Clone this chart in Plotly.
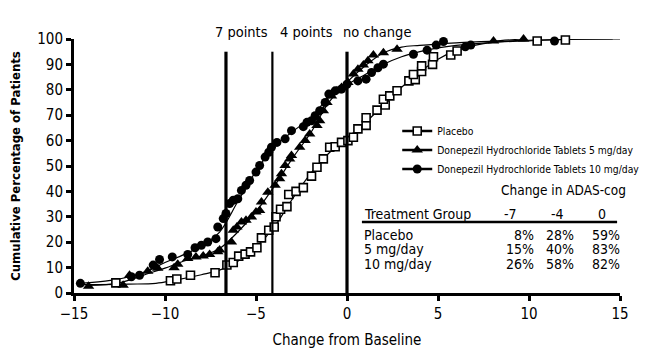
import plotly.graph_objects as go

# ---- data ----
placebo_x = [-12.7, -9.7, -9.35, -8.6, -7.25, -6.6, -6.25, -5.95, -5.6, -5.3, -4.95, -4.7, -4.3, -4.0, -3.9,
             -3.65, -3.3, -3.2, -2.8, -2.4, -1.95, -1.65, -1.3, -0.95, -0.65, -0.3, 0.05, 0.35, 0.6, 1.05, 1.05,
             1.65, 2.1, 2.0, 2.35, 2.75, 3.4, 3.75, 3.65, 4.1, 4.1, 4.7, 4.75, 5.7, 6.05, 10.45, 12.0]
placebo_y = [4, 4.8, 5.5, 7, 8, 11, 12, 14.5, 15.3, 16.2, 17.8, 21.7, 24.7, 26, 30,
             33, 34, 38.8, 40, 41.5, 46, 49.5, 52.8, 57.4, 57.6, 59.3, 60, 61.3, 64.6, 66, 69,
             72, 74, 76.3, 77.6, 79.6, 83.5, 84, 86, 87.2, 89.4, 90, 93, 93.7, 95.3, 99.2, 99.6]

mg5_x = [-14.2, -12.3, -11.95, -10.95, -10.4, -9.5, -9.3, -8.75, -8.3, -7.9, -7.55, -7.1, -7.0, -6.35, -6.25,
         -6.05, -5.8, -5.55, -5.25, -5.0, -4.8, -4.7, -4.35, -3.95, -3.7, -3.6, -3.4, -3.15, -3.05, -2.6,
         -2.3, -2.05, -1.65, -1.5, -1.3, -1.1, -0.85, -0.55, -0.3, 0.05, 0.35, 0.6, 0.9, 1.15, 1.45, 2.0,
         2.75, 8.05, 9.7]
mg5_y = [2.7, 3.1, 7, 8.6, 9.7, 9.9, 11.3, 13.6, 14.2, 14.6, 15.2, 16.2, 16.9, 20.1, 24.7,
         26, 28, 28.6, 29.9, 31.9, 32.5, 35.8, 39.7, 42.4, 45, 46.9, 50.2, 52.8, 54.1, 57.4,
         60, 62.6, 65.9, 67.8, 71.8, 75, 77.6, 79.6, 80.9, 82.9, 86.2, 88.1, 89.8, 91.4, 93.7, 94.6,
         96, 99.2, 100]

mg10_x = [-14.65, -11.85, -11.4, -10.65, -10.3, -9.6, -8.75, -8.35, -8.0, -7.65, -7.2, -7.1, -6.8, -6.65,
          -6.45, -6.25, -6.0, -5.8, -5.55, -5.35, -5.0, -4.8, -4.5, -4.3, -4.15, -3.85, -3.4, -3.05, -2.4,
          -2.2, -1.95, -1.75, -1.5, -1.2, -1.0, -0.65, -0.3, 0.0, 0.6, 1.05, 1.35, 1.7, 2.0, 3.65, 4.4,
          4.9, 5.3, 6.5, 6.8, 11.4, 12.7]
mg10_y = [3.8, 6.4, 7, 11, 13.2, 14.2, 15.2, 17.8, 18.8, 20.1, 21.4, 26, 29.3, 31.3,
          35.2, 36.5, 37.1, 40.4, 42.4, 44.3, 47.6, 50.2, 53.5, 55.4, 57.4, 59.3, 60.7, 63.9, 65.5,
          67.2, 67.8, 69.8, 71.8, 75, 78.3, 79.6, 80.3, 82.2, 83.5, 84.2, 86.8, 88.7, 90.1, 94, 95.6,
          97.6, 99, 96.9, 97.6, 99.2, 100.3]

# fitted curves
fit_p_x = [-14.5, -12, -10.5, -9.5, -8, -7, -6, -5, -4, -3, -2, -1, 0, 1, 2, 3, 4, 5, 6, 7, 8, 10, 12, 14.6]
fit_p_y = [3.3, 3.5, 3.8, 5, 7.2, 9, 12.5, 18, 26, 37, 47, 55, 61, 67, 74, 81, 87, 92, 95.5, 97.5, 98.7, 99.5, 99.8, 100]
fit_5_x = [-14.3, -12.5, -11, -10, -9, -8, -7, -6, -5, -4, -3, -2, -1, 0, 1, 2, 3, 4, 6, 8, 9.7]
fit_5_y = [3, 4, 7.5, 9.8, 12.5, 14.5, 17.5, 24, 32, 42, 53, 63, 75, 83, 89.5, 94.5, 96.8, 97.5, 98.5, 99.2, 100]
fit_10_x = [-14.7, -13, -12, -11, -10, -9, -8, -7, -6, -5, -4, -3, -2, -1, 0, 1, 2, 3, 4, 5, 6, 8, 10, 12.7, 15]
fit_10_y = [3.8, 5, 6.3, 8.5, 12, 15, 18.5, 24, 36, 48, 57.5, 63.5, 69, 77, 82, 86, 90, 93, 95, 96.5, 97.5, 98.7, 99.3, 100, 100]

series_names = ["Placebo", "Donepezil Hydrochloride Tablets 5 mg/day", "Donepezil Hydrochloride Tablets 10 mg/day"]

cut_x = [-6.65, -4.1, 0]
cut_labels = ["7 points", "4 points", "no change"]
cut_label_x = [-5.82, -2.2, 1.65]

table_cols = ["-7", "-4", "0"]
table_rows = ["Placebo", "5 mg/day", "10 mg/day"]
table_vals = [["8%", "28%", "59%"], ["15%", "40%", "83%"], ["26%", "58%", "82%"]]

FONT = "Liberation Sans Narrow, DejaVu Sans Condensed, Arial Narrow, sans-serif"

# page has an 8px body margin: figure is drawn at (8, 8)
OFF = 8
W, H = 655 - OFF, 357 - OFF
L, R, T, B = 74 - OFF, 35, 39 - OFF, 64
PW = W - L - R


def px_to_paper_x(px):
    return (px - OFF - L) / PW


fig = go.Figure()

for fx, fy in [(fit_p_x, fit_p_y), (fit_5_x, fit_5_y), (fit_10_x, fit_10_y)]:
    fig.add_trace(go.Scatter(x=fx, y=fy, mode="lines", line=dict(color="black", width=1.2, shape="spline"),
                             showlegend=False, hoverinfo="skip", cliponaxis=False))

marker_styles = [
    dict(symbol="square", size=8, color="white", line=dict(color="black", width=1.6)),
    dict(symbol="triangle-up", size=10, color="black", line=dict(color="black", width=0)),
    dict(symbol="circle", size=9, color="black", line=dict(color="black", width=0)),
]
for (xs, ys), ms in zip([(placebo_x, placebo_y), (mg5_x, mg5_y), (mg10_x, mg10_y)], marker_styles):
    fig.add_trace(go.Scatter(x=xs, y=ys, mode="markers", marker=ms, showlegend=False, cliponaxis=False))

for name, ms in zip(series_names, marker_styles):
    fig.add_trace(go.Scatter(x=[None], y=[None], mode="lines+markers", name=name,
                             marker=ms, line=dict(color="black", width=2.5)))

shapes = []
for cx, w in zip(cut_x, [3.2, 2.2, 3.2]):
    shapes.append(dict(type="line", xref="x", yref="y", x0=cx, x1=cx, y0=0, y1=95,
                       line=dict(color="black", width=w)))
shapes.append(dict(type="line", xref="x", yref="y", x0=0.82, x1=14.84, y0=28.0, y1=28.0,
                   line=dict(color="black", width=2.5)))

ann = []
for lx, lt in zip(cut_label_x, cut_labels):
    ann.append(dict(x=lx, y=1.067, xref="x", yref="paper", text=lt, showarrow=False,
                    font=dict(size=14.5, family=FONT, color="black")))
ann.append(dict(x=11.87, y=40.5, xref="x", yref="y", text="Change in ADAS-cog", showarrow=False,
                font=dict(size=13.5, family=FONT, color="black")))
ann.append(dict(x=0.82, y=31, xref="x", yref="y", text="Treatment Group", showarrow=False, xanchor="left",
                font=dict(size=14, family=FONT, color="black")))
col_cx = [9.0, 11.54, 14.0]
for cx, ct in zip(col_cx, table_cols):
    ann.append(dict(x=cx, y=31, xref="x", yref="y", text=ct, showarrow=False,
                    font=dict(size=14, family=FONT, color="black")))
row_y = [22.8, 17.3, 11.4]
val_rpx = [536, 576, 622]
for ry, rn, rv in zip(row_y, table_rows, table_vals):
    ann.append(dict(x=0.82, y=ry, xref="x", yref="y", text=rn, showarrow=False, xanchor="left",
                    font=dict(size=14, family=FONT, color="black")))
    for vpx, v in zip(val_rpx, rv):
        ann.append(dict(x=px_to_paper_x(vpx), y=ry, xref="paper", yref="y", text=v, showarrow=False,
                        xanchor="right", font=dict(size=14, family=FONT, color="black")))

fig.update_layout(
    width=W, height=H,
    margin=dict(l=L, r=R, t=T, b=B, autoexpand=False),
    paper_bgcolor="white", plot_bgcolor="white",
    font=dict(family=FONT, color="black", size=14),
    shapes=shapes, annotations=ann,
    legend=dict(x=0.592, y=0.695, xanchor="left", yanchor="top", bgcolor="rgba(0,0,0,0)",
                font=dict(size=10.3, family=FONT), tracegroupgap=0),
    xaxis=dict(range=[-15, 15], tickvals=[-15, -10, -5, 0, 5, 10, 15], showgrid=False, zeroline=False,
               showline=True, linecolor="black", linewidth=3, ticks="outside", ticklen=5, tickwidth=2.5,
               tickcolor="black", tickfont=dict(size=15),
               title=dict(text="Change from Baseline", font=dict(size=15), standoff=13)),
    yaxis=dict(range=[0, 100], tickvals=list(range(0, 101, 10)), showgrid=False, zeroline=False,
               showline=True, linecolor="black", linewidth=3, ticks="outside", ticklen=5, tickwidth=2.5,
               tickcolor="black", tickfont=dict(size=15),
               title=dict(text="<b>Cumulative Percentage of Patients</b>", font=dict(size=13), standoff=14)),
)

fig.write_html("out.html")
